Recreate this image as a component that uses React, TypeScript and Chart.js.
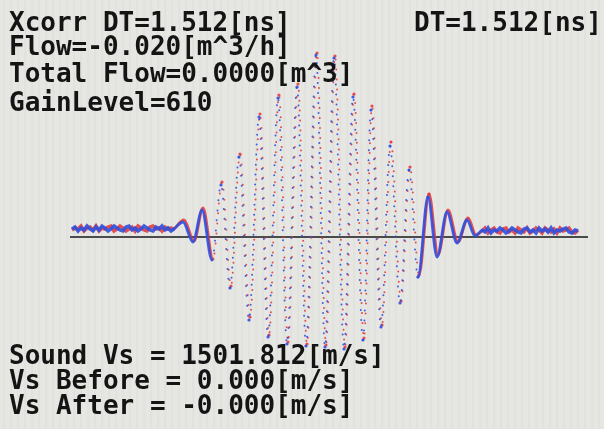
import React, { useEffect, useRef } from "react";
import { Chart, registerables } from "chart.js";

Chart.register(...registerables);

// ---- text shown on the instrument screen ----
const headerLines = [
  "Xcorr DT=1.512[ns]",
  "Flow=-0.020[m^3/h]",
  "Total Flow=0.0000[m^3]",
  "GainLevel=610",
];
const headerRight = "DT=1.512[ns]";
const footerLines = [
  "Sound Vs = 1501.812[m/s]",
  "Vs Before = 0.000[m/s]",
  "Vs After = -0.000[m/s]",
];

// ---- waveform data (time in samples, amplitude in ADC units) ----
const leftNoiseTimes = [
  0, 6, 12, 18, 24, 30, 36, 42, 48, 54, 60, 66, 72, 78, 84, 90, 96, 102, 108,
  114, 120, 126, 132, 138, 144, 150, 156, 162, 168, 174, 180, 186, 192, 198, 204,
];
const blueLeftNoise = [
  8, 10, 6, 9, 7, 11, 8, 6, 10, 7, 11, 9, 6, 8, 11, 9, 7, 6, 10, 11, 7, 9, 6, 8,
  11, 9, 7, 6, 10, 8, 11, 7, 9, 6, 8,
];
const redLeftNoise = [
  7, 9, 8, 11, 6, 9, 10, 7, 11, 6, 9, 8, 10, 11, 6, 8, 11, 9, 6, 8, 10, 6, 11,
  9, 7, 6, 10, 11, 8, 9, 6, 10, 8, 9, 8,
];

const rightNoiseTimes = [
  820, 826, 832, 838, 844, 850, 856, 862, 868, 874, 880, 886, 892, 898, 904,
  910, 916, 922, 928, 934, 940, 946, 952, 958, 964, 970, 976, 982, 988, 994,
  1000, 1006, 1012,
];
const blueRightNoise = [
  7, 5, 9, 4, 7, 6, 9, 7, 4, 6, 9, 7, 5, 4, 8, 9, 5, 7, 4, 9, 6, 8, 5, 9, 4, 7,
  6, 8, 9, 5, 4, 7, 6,
];
const redRightNoise = [
  6, 9, 4, 7, 9, 5, 4, 8, 9, 5, 7, 4, 9, 7, 5, 9, 4, 6, 9, 7, 4, 9, 7, 5, 8, 4,
  9, 6, 7, 9, 5, 4, 7,
];

const blueBurstTimes = [
  204, 222, 242, 260, 280, 298, 316, 334, 354, 374, 392, 412, 430, 450, 468,
  488, 506, 524, 544, 562, 582, 598, 618, 636, 656, 674, 692, 712, 730, 750,
  770, 790, 806, 820,
];
const blueBurst = [
  8, 15, -5, 27, -23, 52, -51, 80, -83, 120, -100, 139, -107, 150, -109, 182,
  -110, 179, -112, 140, -103, 127, -90, 91, -66, 67, -40, 40, -20, 25, -6, 17,
  1, 7,
];
const redBurstTimes = [
  204, 224, 244, 262, 282, 300, 318, 336, 356, 376, 394, 414, 432, 452, 470,
  490, 508, 526, 546, 564, 584, 600, 620, 638, 658, 676, 694, 714, 732, 752,
  772, 792, 808, 820,
];
const redBurst = [
  8, 17, -4, 29, -22, 55, -49, 83, -80, 123, -98, 142, -105, 153, -107, 184,
  -108, 181, -110, 143, -101, 131, -88, 95, -64, 70, -38, 43, -18, 27, -5, 19,
  2, 6,
];

const baselineTimes = [-4, 1032];
const baselineValues = [0, 0];

const BLUE = "rgba(45, 80, 225, 0.9)";
const RED = "rgba(228, 52, 52, 0.85)";

const toPoints = (xs: number[], ys: number[]) =>
  xs.map((x, i) => ({ x, y: ys[i] }));

export default function App() {
  const ref = useRef<HTMLCanvasElement | null>(null);

  useEffect(() => {
    if (!ref.current) return;
    const big = (ctx: any) =>
      Math.max(Math.abs(ctx.p0.parsed.y), Math.abs(ctx.p1.parsed.y)) > 45;

    const burstDataset = (
      label: string,
      xs: number[],
      ys: number[],
      color: string,
      order: number,
      dashOffset: number
    ) => ({
      label,
      data: toPoints(xs, ys),
      borderColor: color,
      backgroundColor: color,
      pointBackgroundColor: color,
      pointBorderWidth: 0,
      pointRadius: (c: any) => {
        const v = c.raw ? Math.abs(c.raw.y) : 0;
        return v > 30 ? 1.6 : 0;
      },
      cubicInterpolationMode: "monotone" as const,
      tension: 0.4,
      order,
      segment: {
        borderDash: (ctx: any) => (big(ctx) ? [0, 10] : undefined),
        borderDashOffset: () => dashOffset,
        borderWidth: (ctx: any) => (big(ctx) ? 2.0 : 2.8),
        borderCapStyle: () => "round",
      },
      borderWidth: 2.8,
      borderCapStyle: "round" as const,
    });

    const noiseDataset = (
      label: string,
      xs: number[],
      ys: number[],
      color: string,
      order: number
    ) => ({
      label,
      data: toPoints(xs, ys),
      borderColor: color,
      borderWidth: 3.5,
      pointRadius: 0,
      tension: 0,
      order,
    });

    const chart = new Chart(ref.current, {
      type: "line",
      data: {
        datasets: [
          {
            label: "baseline",
            data: toPoints(baselineTimes, baselineValues),
            borderColor: "#4b4b4b",
            borderWidth: 2,
            pointRadius: 0,
            order: 5,
          },
          noiseDataset("red-left", leftNoiseTimes, redLeftNoise, RED, 4),
          noiseDataset("red-right", rightNoiseTimes, redRightNoise, RED, 4),
          burstDataset("red-burst", redBurstTimes, redBurst, RED, 3, 4),
          noiseDataset("blue-left", leftNoiseTimes, blueLeftNoise, BLUE, 2),
          noiseDataset("blue-right", rightNoiseTimes, blueRightNoise, BLUE, 2),
          burstDataset("blue-burst", blueBurstTimes, blueBurst, BLUE, 1, 0),
        ] as any,
      },
      options: {
        animation: false,
        responsive: false,
        maintainAspectRatio: false,
        layout: { padding: 0 },
        plugins: {
          legend: { display: false },
          tooltip: { enabled: false },
          title: { display: false },
        },
        scales: {
          x: { type: "linear", min: -144, max: 1064, display: false },
          y: { type: "linear", min: -192, max: 237, display: false },
        },
        elements: { line: { fill: false } },
      },
    });
    return () => chart.destroy();
  }, []);

  const textStyle: React.CSSProperties = {
    position: "absolute",
    fontFamily: '"DejaVu Sans Mono", monospace',
    fontWeight: "bold",
    fontSize: "26px",
    lineHeight: "26px",
    whiteSpace: "pre",
    color: "#141414",
    margin: 0,
  };

  const headerTops = [9, 33, 60, 89];
  const footerTops = [342, 367, 392];

  return (
    <div
      style={{
        position: "fixed",
        left: 0,
        top: 0,
        width: 604,
        height: 429,
        overflow: "hidden",
        background:
          "repeating-linear-gradient(90deg, #e6e6e3 0px, #e6e6e3 3px, #dededb 4px, #e4e4e1 5px, #e7e7e4 7px)",
      }}
    >
      <canvas
        ref={ref}
        width={604}
        height={429}
        style={{ position: "absolute", left: 0, top: 0, width: 604, height: 429 }}
      />
      {headerLines.map((t, i) => (
        <div key={"h" + i} style={{ ...textStyle, left: 9, top: headerTops[i] }}>
          {t}
        </div>
      ))}
      <div style={{ ...textStyle, left: 414, top: 9 }}>{headerRight}</div>
      {footerLines.map((t, i) => (
        <div key={"f" + i} style={{ ...textStyle, left: 9, top: footerTops[i] }}>
          {t}
        </div>
      ))}
    </div>
  );
}
